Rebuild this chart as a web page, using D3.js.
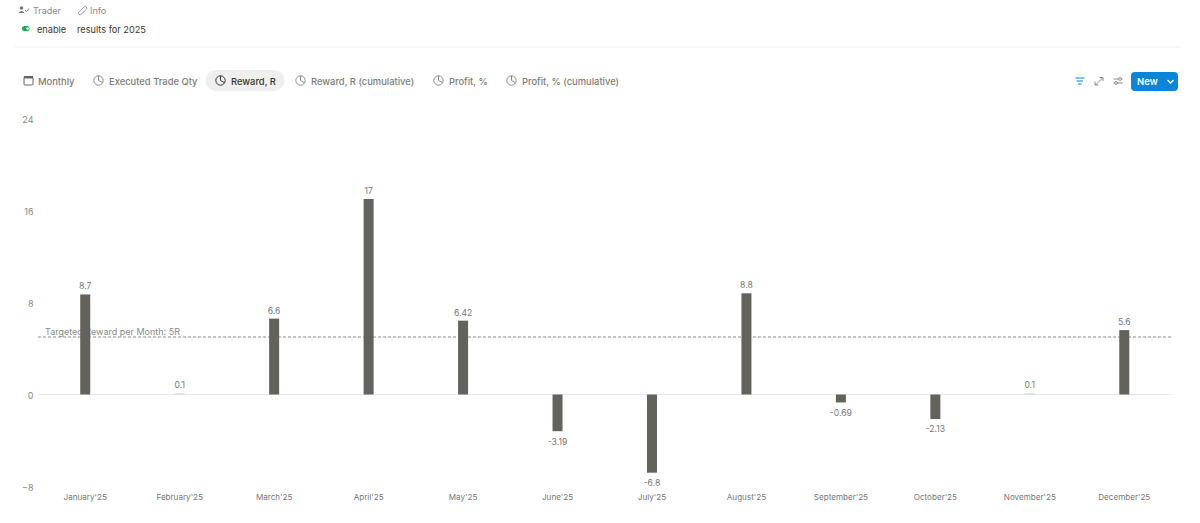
<!DOCTYPE html>
<html>
<head>
<meta charset="utf-8">
<script src="https://cdn.jsdelivr.net/npm/d3@7"></script>
<style>
  html, body { margin: 0; padding: 0; background: #fff; overflow: hidden; }
  text { font-family: Inter, "Noto Sans", sans-serif; }
</style>
</head>
<body>
<div id="chart"></div>
<script>
const months = ["January'25", "February'25", "March'25", "April'25", "May'25", "June'25",
    "July'25", "August'25", "September'25", "October'25", "November'25", "December'25"];
const rewards = [8.7, 0.1, 6.6, 17, 6.42, -3.19, -6.8, 8.8, -0.69, -2.13, 0.1, 5.6];
const yTicks = [-8, 0, 8, 16, 24];
const target = 5;
const targetLabel = "Targeted Reward per Month: 5R";
const tabs = ["Monthly", "Executed Trade Qty", "Reward, R", "Reward, R (cumulative)", "Profit, %", "Profit, % (cumulative)"];
const tabTextX = [38, 109, 231, 311, 449, 522];
const tabIconX = [28, 98, 220, 300, 438, 511];

const svg = d3.select("#chart")
    .append("svg")
    .attr("width", 1200)
    .attr("height", 523)
    .style("display", "block");

const xScale = d3.scaleBand().domain(months).range([38, 1171.5]);
const yScale = d3.scaleLinear().domain([-8, 24]).range([486.5, 118.5]);

// header
function headText(x, y, s, color, size) {
    return svg.append("text").attr("x", x).attr("y", y)
        .attr("font-size", size).attr("fill", color).text(s);
}
headText(33, 14, "Trader", "#8a8a8a", 9);
headText(90, 14, "Info", "#8a8a8a", 9);
headText(37, 32.5, "enable", "#37352f", 9.2);
headText(77, 32.5, "results for 2025", "#37352f", 9.2);

// little person + check next to Trader
svg.append("circle").attr("cx", 21.5).attr("cy", 8).attr("r", 1.8).attr("fill", "#777");
svg.append("path").attr("d", "M18.5 13 q3 -4 6 0 z").attr("fill", "#777");
svg.append("path").attr("d", "M25 10 l1.5 1.5 l2.5 -3").attr("fill", "none").attr("stroke", "#777");
// link icon next to Info
svg.append("path").attr("d", "M78 13 L84 7 a1.6 1.6 0 0 1 2.4 2.4 L81 14.5 a1.6 1.6 0 0 1 -2.6 -1.5")
    .attr("fill", "none").attr("stroke", "#999").attr("stroke-width", 0.9);
// green toggle
svg.append("rect").attr("x", 22).attr("y", 26).attr("width", 7.5).attr("height", 5).attr("rx", 2.5).attr("fill", "#1fa84a");
svg.append("circle").attr("cx", 27.5).attr("cy", 28.5).attr("r", 1.3).attr("fill", "#e6f5ea");

svg.append("line").attr("x1", 15).attr("x2", 1180).attr("y1", 47).attr("y2", 47)
    .attr("stroke", "#eeeeec");

// tabs
svg.append("rect").attr("x", 205.5).attr("y", 70).attr("width", 79).attr("height", 21).attr("rx", 10.5)
    .attr("fill", "#efefed");

tabs.forEach((t, i) => {
    const active = t === "Reward, R";
    const color = active ? "#37352f" : "#8c8b88";
    headText(tabTextX[i], 84.5, t, active ? "#37352f" : "#7d7c78", 9.4)
        .attr("font-weight", 500);
    const cx = tabIconX[i] + 0.5, cy = 80.5;
    if (i === 0) {
        svg.append("rect").attr("x", cx - 4.5).attr("y", cy - 3.5).attr("width", 9).attr("height", 8)
            .attr("rx", 1).attr("fill", "none").attr("stroke", "#666").attr("stroke-width", 1);
        svg.append("rect").attr("x", cx - 4.5).attr("y", cy - 4.5).attr("width", 9).attr("height", 2.5)
            .attr("fill", "#666");
    } else {
        svg.append("circle").attr("cx", cx).attr("cy", cy).attr("r", 4.7)
            .attr("fill", "none").attr("stroke", color).attr("stroke-width", 1);
        svg.append("path").attr("d", `M${cx} ${cy - 4.7} V${cy} L${cx + 4} ${cy + 2.2}`)
            .attr("fill", "none").attr("stroke", color).attr("stroke-width", 1);
    }
});

// toolbar on the right
svg.append("g").selectAll("line")
    .data([[1075.5, 1084.5, 78], [1076.5, 1083, 81], [1078, 1081.5, 84]])
    .join("line")
    .attr("x1", d => d[0]).attr("x2", d => d[1]).attr("y1", d => d[2]).attr("y2", d => d[2])
    .attr("stroke", "#2f94d8").attr("stroke-width", 1.2);
svg.append("path").attr("d", "M1095.5 85 l7 -7 M1099.5 77.5 h3.5 v3.5 M1095 81.5 v3.5 h3.5")
    .attr("fill", "none").attr("stroke", "#8a8a88").attr("stroke-width", 1);
svg.append("path").attr("d", "M1113.5 79 h9 M1113.5 83 h9").attr("fill", "none")
    .attr("stroke", "#8a8a88").attr("stroke-width", 1);
svg.append("circle").attr("cx", 1120).attr("cy", 79).attr("r", 1.4).attr("fill", "#fff").attr("stroke", "#8a8a88");
svg.append("circle").attr("cx", 1116).attr("cy", 83).attr("r", 1.4).attr("fill", "#fff").attr("stroke", "#8a8a88");

svg.append("rect").attr("x", 1131).attr("y", 72).attr("width", 47).attr("height", 19).attr("rx", 4)
    .attr("fill", "#0b85d8");
svg.append("text").attr("x", 1137).attr("y", 85).attr("font-size", 9.5).attr("font-weight", 600)
    .attr("fill", "#fff").text("New");
svg.append("path").attr("d", "M1167.5 80 l3 3 l3 -3").attr("fill", "none")
    .attr("stroke", "#fff").attr("stroke-width", 1.3);

// y axis
const yAxis = svg.append("g")
    .attr("transform", "translate(33.5,0.7)")
    .call(d3.axisLeft(yScale).tickValues(yTicks).tickSize(0).tickPadding(0));
yAxis.select(".domain").remove();
yAxis.selectAll("text").attr("fill", "#8a8a88").style("font-size", "9px");

// x axis labels
const xAxis = svg.append("g")
    .attr("transform", "translate(0,488)")
    .call(d3.axisBottom(xScale).tickSize(0).tickPadding(6));
xAxis.select(".domain").remove();
xAxis.selectAll("text").attr("fill", "#77767a").style("font-size", "8.1px");

// zero line
svg.append("line").attr("x1", 38).attr("x2", 1171.5)
    .attr("y1", yScale(0)).attr("y2", yScale(0)).attr("stroke", "#e6e6e4");

// target line goes under the bars
svg.append("text").attr("x", 45).attr("y", yScale(target) - 2.5)
    .attr("font-size", 9).attr("fill", "#8a8a88").text(targetLabel);
svg.append("line").attr("x1", 38).attr("x2", 1171.5)
    .attr("y1", yScale(target)).attr("y2", yScale(target))
    .attr("stroke", "#8a8a88").attr("stroke-dasharray", "3 2");

// bars
svg.append("g").selectAll("rect")
    .data(rewards)
    .join("rect")
    .attr("x", (d, i) => xScale(months[i]) + xScale.step() / 2 - 5)
    .attr("width", 10)
    .attr("y", d => yScale(Math.max(d, 0)))
    .attr("height", d => Math.abs(yScale(d) - yScale(0)))
    .attr("fill", d => Math.abs(d) < 0.5 ? "#d6d5d2" : "#64625d");

// value labels
svg.append("g").selectAll("text")
    .data(rewards)
    .join("text")
    .attr("x", (d, i) => xScale(months[i]) + xScale.step() / 2)
    .attr("y", d => d >= 0 ? yScale(d) - 5 : yScale(d) + 13.5)
    .attr("text-anchor", "middle")
    .attr("font-size", 8.6)
    .attr("fill", "#77767a")
    .text(d => d);
</script>
</body>
</html>
